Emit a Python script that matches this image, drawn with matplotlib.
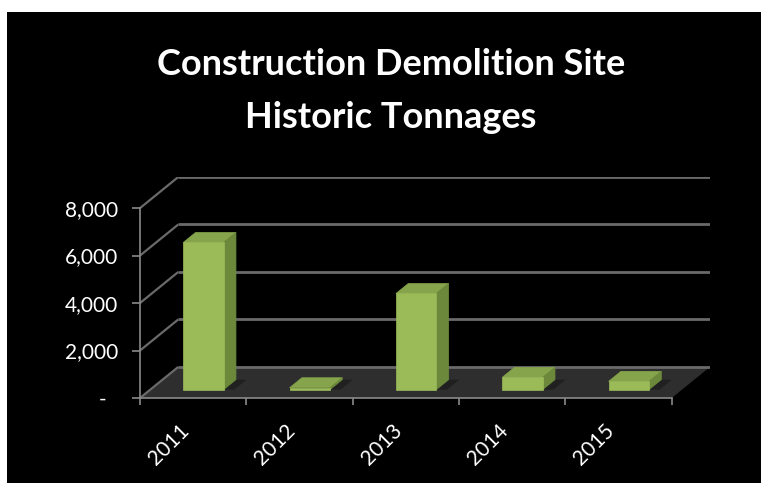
import matplotlib
matplotlib.use("Agg")
import matplotlib.pyplot as plt
from matplotlib.patches import Rectangle, Polygon

plt.rcParams["font.family"] = ["Lato", "DejaVu Sans"]

# data
years = ["2011", "2012", "2013", "2014", "2015"]
tonnages = [6200, 80, 4050, 520, 350]
yticks = [0, 2000, 4000, 6000, 8000]
ytick_labels = ["-  ", "2,000", "4,000", "6,000", "8,000"]
title_lines = ["Construction Demolition Site", "Historic Tonnages"]

# oblique "3D" depth offset in data units (full depth of the floor)
DX, DY = 0.36, 1310
F0, F1 = 0.27, 0.59   # front / back depth fraction of the columns
W = 0.38              # column width in category units

GRID = "#6a6a6a"
FRONT, TOP, SIDE = "#9BBB59", "#86A44B", "#6C893B"

fig = plt.figure(figsize=(7.61, 4.83), dpi=100, facecolor="white")
fig.patches.append(Rectangle((7 / 761, 0), 1, 1 - 12 / 483, transform=fig.transFigure,
                             facecolor="black", edgecolor="none", zorder=-10))

for i, line in enumerate(title_lines):
    fig.text(0.514, 1 - (75 + 53 * i) / 483, line, color="white", fontsize=26,
             fontweight="bold", ha="center", va="baseline")

ax = fig.add_axes([140 / 761, 85 / 483, 570 / 761, 221 / 483])
ax.set_facecolor("none")
n = len(years)
ax.set_xlim(0, n + DX)
ax.set_ylim(0, yticks[-1] + DY)

# floor
ax.add_patch(Polygon([(0, 0), (n, 0), (n + DX, DY), (DX, DY)], closed=True,
                     facecolor="#2e2e2e", edgecolor="none", zorder=1))

# side-wall diagonals and back-wall gridlines
for v in yticks:
    ax.plot([0, DX], [v, v + DY], color=GRID, lw=1.6, zorder=2, solid_capstyle="butt")
    ax.plot([DX, n + DX], [v + DY, v + DY], color=GRID, lw=2, zorder=2, solid_capstyle="butt")

# columns: front faces as bars, top and side faces as polygons
x_left = [i + 0.5 - W / 2 + F0 * DX for i in range(n)]
base = F0 * DY
ddx, ddy = (F1 - F0) * DX, (F1 - F0) * DY
for xl, v in zip(x_left, tonnages):
    # soft shadow on the floor, right of the column foot
    ax.add_patch(Polygon([(xl + W, base), (xl + W + ddx, base + ddy),
                          (xl + W + ddx + 0.1, base + ddy), (xl + W + 0.1, base)],
                         closed=True, facecolor="#202020", edgecolor="none", zorder=2.5))
    ax.add_patch(Polygon([(xl, base + v), (xl + W, base + v), (xl + W + ddx, base + v + ddy),
                          (xl + ddx, base + v + ddy)], closed=True,
                         facecolor=TOP, edgecolor=TOP, lw=0.5, zorder=3))
    ax.add_patch(Polygon([(xl + W, base), (xl + W + ddx, base + ddy), (xl + W + ddx, base + v + ddy),
                          (xl + W, base + v)], closed=True,
                         facecolor=SIDE, edgecolor=SIDE, lw=0.5, zorder=3))
ax.bar(x_left, tonnages, width=W, bottom=base, align="edge", color=FRONT,
       edgecolor=FRONT, lw=0.5, zorder=4)

# axes
for s in ["top", "right"]:
    ax.spines[s].set_visible(False)
ax.spines["left"].set_bounds(0, yticks[-1])
ax.spines["bottom"].set_bounds(0, n)
for s in ["left", "bottom"]:
    ax.spines[s].set_color("#8a8a8a")
    ax.spines[s].set_linewidth(1.2)
    ax.spines[s].set_zorder(5)

ax.set_yticks(yticks)
ax.set_yticklabels(ytick_labels)
ax.tick_params(axis="y", colors="#8a8a8a", labelcolor="white", labelsize=15,
               length=6, width=1.2, pad=10)

ax.set_xticks([i + 0.5 for i in range(n)])
ax.set_xticklabels(years, rotation=45, ha="right", rotation_mode="default")
ax.set_xticks(range(n + 1), minor=True)
ax.tick_params(axis="x", which="major", length=0, labelcolor="white", labelsize=15, pad=16)
ax.tick_params(axis="x", which="minor", colors="#8a8a8a", length=5, width=1.2)

fig.savefig("out.png", dpi=100, facecolor=fig.get_facecolor())
